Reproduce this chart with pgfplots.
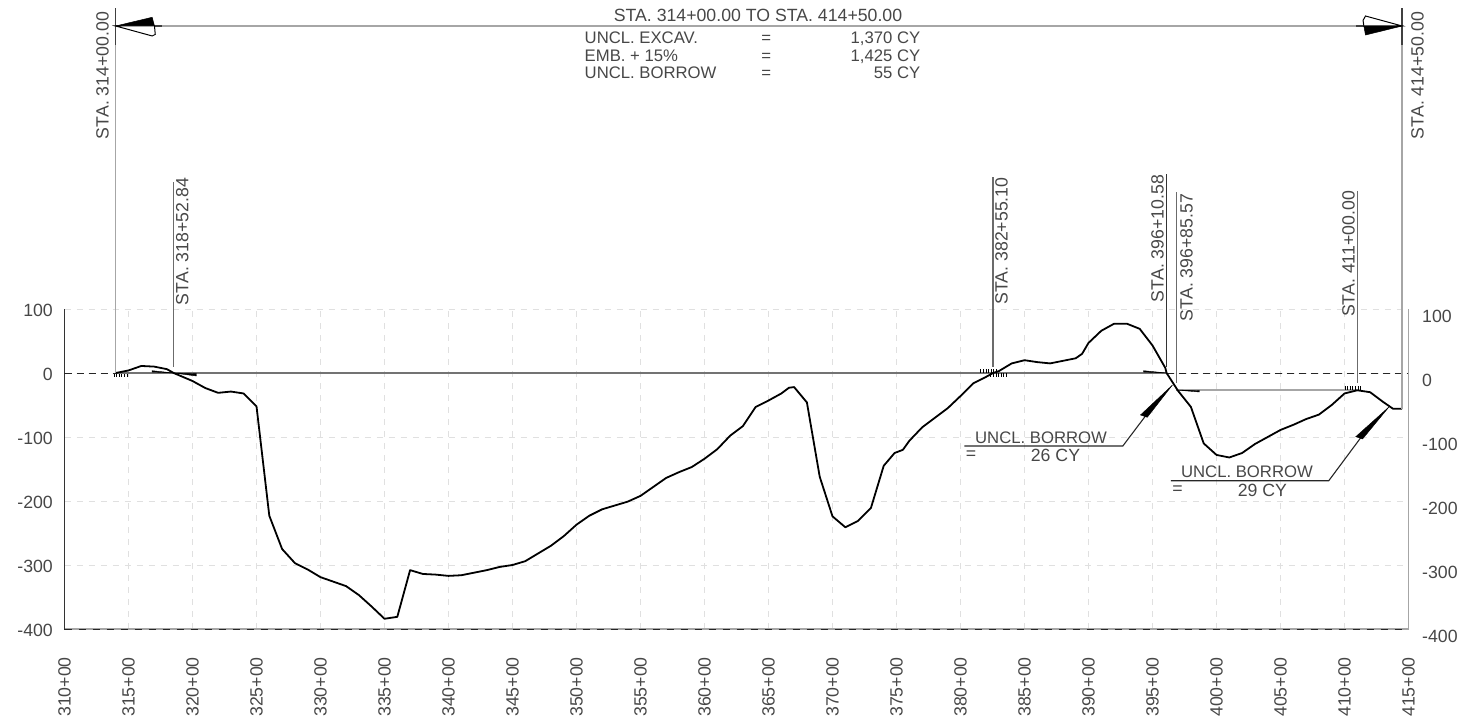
\documentclass[border=0pt]{standalone}
\usepackage{fontspec}
\usepackage{pgfplots}
\pgfplotsset{compat=1.18}
\setmainfont{Liberation Sans}
\newcommand{\cad}{\fontsize{17.7}{20}\selectfont}
\newcommand{\cadsmall}{\fontsize{16.7}{19}\selectfont}
\definecolor{txt}{gray}{0.28}
\definecolor{grd}{gray}{0.88}
\definecolor{ext}{gray}{0.65}
\definecolor{sta}{gray}{0.42}

% mass haul ordinate, CY, by station
\pgfplotstableread{
st ord
314 0
315 4
316 11
317 10
318 6
318.53 0
320 -12.5
321 -23.5
322 -31
323 -29
324 -32
325 -52
326 -223
327 -275
328 -297
329 -307
330 -319
331 -326
332 -333
333 -347
334 -365
335 -384
336 -381
337 -308
338 -314
339 -315
340 -317
341 -316
342 -312
343 -308
344 -303
345 -300
346 -294
347 -282
348 -270
349 -255
350 -237
351 -223
352 -213
353 -207
354 -201
355 -192
356 -178
357 -164
358 -155
359 -147
360 -134
361 -119
362 -98
363 -83
364 -53
365 -43
366 -32
366.6 -23
367 -22
368 -46
369 -162
370 -224
371 -241
372 -231
373 -211
374 -145
374.85 -125
375.5 -120
376 -106
377 -85
378 -70
379 -55
380 -36
381 -16
382 -6
382.55 0
383 3
384 15
385 20
386 17
387 15
388 19
389 23
389.5 30
390 47
391 66
392 77
393 77
394 69
395 43
396 8
396.1 0
397 -28
398 -53
399 -110
400 -128
401 -132
402 -125
403 -111
404 -100
405 -89
406 -81
407 -72
408 -65
409 -50
410 -32
411 -27
412 -30
413 -45
413.8 -56
414.5 -56
}\profile

\begin{document}
\begin{tikzpicture}[font=\cad,every node/.append style={text=txt,inner sep=0pt}]
\path[use as bounding box] (0,0) rectangle (1467pt,724pt);

\begin{axis}[
    at={(64.5pt,95pt)}, anchor=south west,
    scale only axis, width=1344pt, height=320pt,
    xmin=310, xmax=415, ymin=-400, ymax=100,
    clip=false,
    axis x line=bottom, axis y line=left,
    axis line style={-,line width=1pt},
    x axis line style={ext,line width=1.4pt},
    y axis line style={black!80},
    major tick length=0pt,
    xmajorgrids, ymajorgrids,
    grid style={grd,line width=0.9pt,dash pattern=on 6pt off 6pt},
    xtick={310,315,...,415},
    xticklabels={310+00,315+00,320+00,325+00,330+00,335+00,340+00,345+00,350+00,355+00,360+00,365+00,370+00,375+00,380+00,385+00,390+00,395+00,400+00,405+00,410+00,415+00},
    xticklabel style={rotate=90,anchor=west,inner sep=0pt,xshift=-88pt,font=\cad,text=txt},
    ytick={-400,-300,-200,-100,0,100},
    yticklabels={-400,-300,-200,-100,0,100},
    yticklabel style={anchor=east,inner sep=0pt,xshift=-11.5pt,yshift=-1pt,font=\cad,text=txt},
]
% baseline and zero line
\addplot[black!85,line width=0.8pt,dash pattern=on 7pt off 7pt] coordinates {(310,-400)(415,-400)};
\addplot[black!85,line width=0.9pt,dash pattern=on 7pt off 5pt] coordinates {(310,0)(314,0)};
\addplot[black!85,line width=0.9pt,dash pattern=on 7pt off 5pt] coordinates {(396.1,0)(415,0)};
\addplot[black!55,line width=1.2pt] coordinates {(314,0)(396.1,0)};
\addplot[ext,line width=1.8pt] coordinates {(396.86,-26.6)(411,-26.6)};

% profile
\addplot[black,line width=1.8pt,line join=round] table[x=st,y=ord] {\profile};

% station extension lines
\addplot[ext,line width=1.4pt] coordinates {(314,512.5)(314,0)};
\addplot[black!75,line width=1.4pt] coordinates {(314,570.3)(314,512.5)};
\addplot[ext,line width=1.4pt] coordinates {(414.5,512.5)(414.5,-55.8)};
\addplot[black!75,line width=1.4pt] coordinates {(414.5,570.3)(414.5,512.5)};
\addplot[sta,line width=1.5pt] coordinates {(318.5284,298.4)(318.5284,9.4)};
\addplot[sta,line width=1.5pt] coordinates {(382.551,306)(382.551,9.4)};
\addplot[black!80,line width=1.4pt] coordinates {(396.1058,310.9)(396.1058,9.4)};
\addplot[sta,line width=1.5pt] coordinates {(396.8557,282.8)(396.8557,-15.6)};
\addplot[sta,line width=1.5pt] coordinates {(411,284.4)(411,-15.6)};

% dimension line and its arrows
\addplot[ext,line width=1.3pt] coordinates {(314,542.2)(414.5,542.2)};
\addplot[black!75,line width=1.2pt] coordinates {(314,542.2)(317.6,542.2)};
\addplot[black!75,line width=1.2pt] coordinates {(410.9,542.2)(414.5,542.2)};
\addplot[fill=black,draw=black,line width=0.5pt] coordinates {(314,542.2)(316.85,555.8)(317.03,542.2)} --cycle;
\addplot[fill=white,draw=black,line width=1pt] coordinates {(314,542.2)(316.85,526.6)(317.09,529)(317.03,542.2)} --cycle;
\addplot[fill=black,draw=black,line width=0.5pt] coordinates {(414.5,542.2)(411.64,528.1)(411.51,542.2)} --cycle;
\addplot[fill=white,draw=black,line width=1pt] coordinates {(414.5,542.2)(411.64,557.8)(411.45,551)(411.51,542.2)} --cycle;

% wedges on the balance lines
\addplot[fill=black,draw=black,line width=0.4pt] coordinates {(318.53,0)(316.85,3.6)(316.85,1.5)} --cycle;
\addplot[fill=black,draw=black,line width=0.4pt] coordinates {(318.53,0)(320.31,-4.7)(320.31,-1)} --cycle;
\addplot[fill=black,draw=black,line width=0.4pt] coordinates {(396.1,0)(394.3,3.6)(394.3,1.5)} --cycle;
\addplot[fill=black,draw=black,line width=0.4pt] coordinates {(396.86,-26.6)(398.67,-29.7)(398.67,-27.5)} --cycle;

% hatching at the balance points
\addplot[black,line width=3.4pt,dash pattern=on 1pt off 1.6pt] coordinates {(313.83,-3.9)(315,-3.9)};
\addplot[black,line width=3.4pt,dash pattern=on 1pt off 1.6pt] coordinates {(381.56,3.1)(382.81,3.1)};
\addplot[black,line width=3.4pt,dash pattern=on 1pt off 1.6pt] coordinates {(382.34,-3.1)(383.6,-3.1)};
\addplot[black,line width=3.4pt,dash pattern=on 1pt off 1.6pt] coordinates {(410,-23.4)(411.25,-23.4)};

% borrow leaders
\addplot[black!85,line width=1.1pt] coordinates {(380.31,-114.06)(392.68,-114.06)(394.45,-67.2)};
\addplot[fill=black,draw=black,line width=0.4pt] coordinates {(396.56,-18.75)(394.06,-65.6)(394.59,-69.2)} --cycle;
\addplot[black!85,line width=1.1pt] coordinates {(396.43,-168.3)(408.77,-168.3)(411.25,-101.6)};
\addplot[fill=black,draw=black,line width=0.4pt] coordinates {(413.49,-52.7)(410.88,-99.5)(411.41,-103.1)} --cycle;

% station labels
\node[rotate=90] at (axis cs:312.97,464.8) {STA. 314+00.00};
\node[rotate=90] at (axis cs:319.195,205.5) {STA. 318+52.84};
\node[rotate=90] at (axis cs:383.2,206.25) {STA. 382+55.10};
\node[rotate=90] at (axis cs:395.39,210.2) {STA. 396+10.58};
\node[rotate=90] at (axis cs:397.66,180.5) {STA. 396+85.57};
\node[rotate=90] at (axis cs:410.31,185.9) {STA. 411+00.00};
\node[rotate=90] at (axis cs:415.7,464.8) {STA. 414+50.00};

% summary block
\node at (axis cs:364.18,559.4) {STA. 314+00.00 TO STA. 414+50.00};
\node[anchor=mid west,font=\cadsmall] at (axis cs:350.625,519) {UNCL. EXCAV.};
\node[anchor=mid west,font=\cadsmall] at (axis cs:350.625,491.5) {EMB. + 15\%};
\node[anchor=mid west,font=\cadsmall] at (axis cs:350.625,464.5) {UNCL. BORROW};
\node[anchor=mid,font=\cadsmall] at (axis cs:364.82,519) {=};
\node[anchor=mid,font=\cadsmall] at (axis cs:364.82,491.5) {=};
\node[anchor=mid,font=\cadsmall] at (axis cs:364.82,464.5) {=};
\node[anchor=mid east,font=\cadsmall] at (axis cs:376.875,519) {1,370 CY};
\node[anchor=mid east,font=\cadsmall] at (axis cs:376.875,491.5) {1,425 CY};
\node[anchor=mid east,font=\cadsmall] at (axis cs:376.875,464.5) {55 CY};

% borrow labels
\node[font=\cadsmall] at (axis cs:386.29,-101.1) {UNCL. BORROW};
\node at (axis cs:387.42,-128.1) {26 CY};
\node at (axis cs:380.83,-128.1) {=};
\node[font=\cadsmall] at (axis cs:402.38,-154.7) {UNCL. BORROW};
\node at (axis cs:403.59,-182.8) {29 CY};
\node at (axis cs:396.95,-182.8) {=};
\end{axis}

% right scale, set a little lower than the left one
\begin{axis}[
    at={(64.5pt,95pt)}, anchor=south west,
    scale only axis, width=1344pt, height=320pt,
    xmin=310, xmax=415, ymin=-400, ymax=100,
    axis x line=none, axis y line=right,
    axis line style={-,ext,line width=1.2pt},
    major tick length=0pt,
    ytick={-400,-300,-200,-100,0,100},
    yticklabels={-400,-300,-200,-100,0,100},
    yticklabel style={anchor=west,inner sep=0pt,xshift=13.5pt,yshift=-7pt,font=\cad,text=txt},
]
\end{axis}
\end{tikzpicture}
\end{document}
